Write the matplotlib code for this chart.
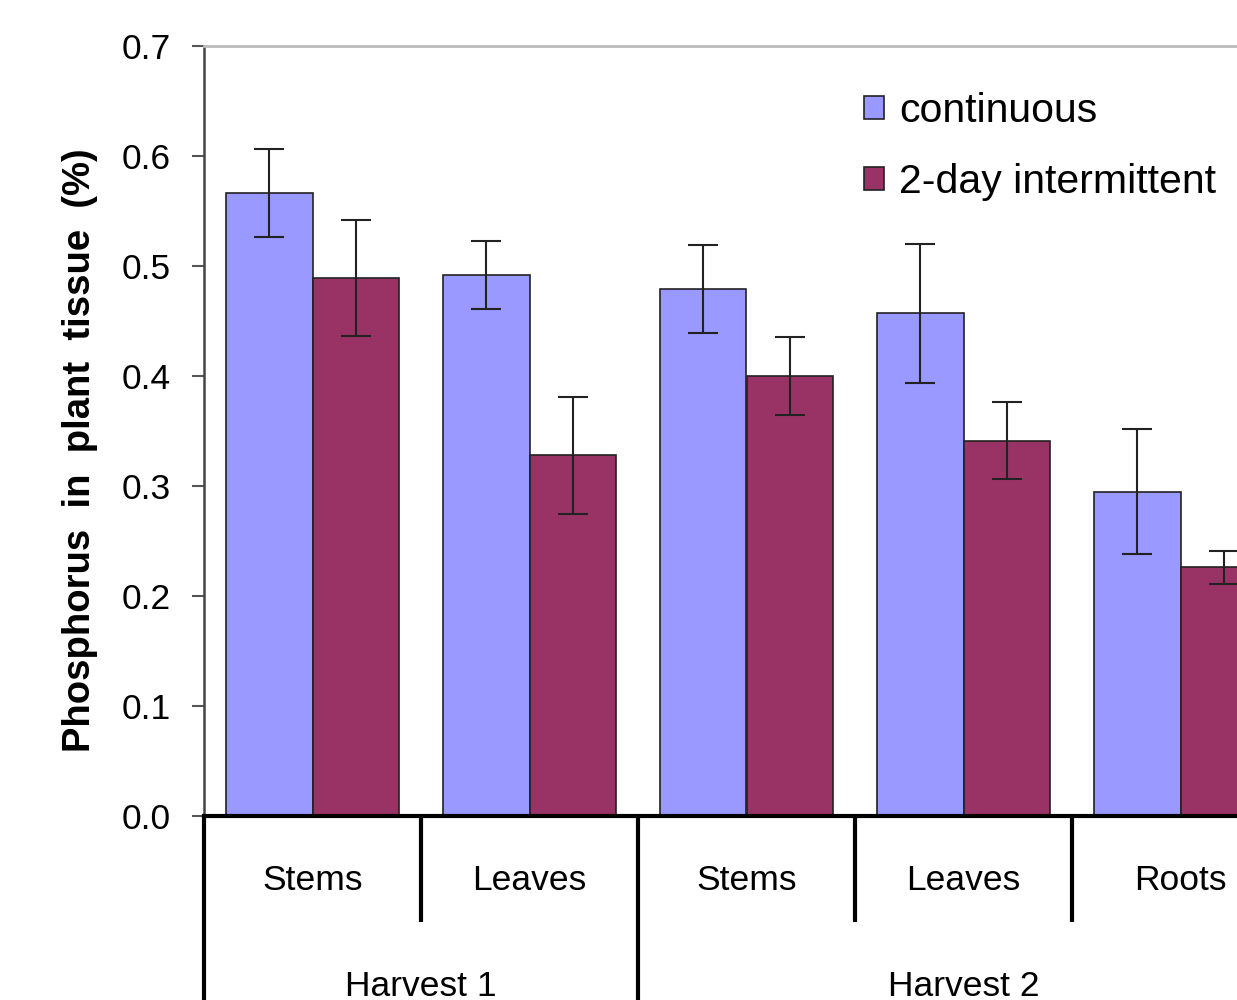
import matplotlib
matplotlib.use("Agg")
import matplotlib.pyplot as plt
from matplotlib.ticker import FormatStrFormatter
import numpy as np

plt.rcParams['font.family'] = ['Liberation Sans', 'DejaVu Sans']

organs = ["Stems", "Leaves", "Stems", "Leaves", "Roots"]
harvests = ["Harvest 1", "Harvest 2"]
harvest_span = [(0, 2), (2, 5)]  # category index ranges
continuous = [0.566, 0.492, 0.479, 0.457, 0.295]
continuous_err = [0.040, 0.031, 0.040, 0.063, 0.057]
intermittent = [0.489, 0.328, 0.400, 0.341, 0.226]
intermittent_err = [0.053, 0.053, 0.035, 0.035, 0.015]
series_names = ["continuous", "2-day intermittent"]
yticks = [0.0, 0.1, 0.2, 0.3, 0.4, 0.5, 0.6, 0.7]

W, H = 1237, 1000
fig = plt.figure(figsize=(W / 100, H / 100), dpi=100)
left_px, right_px, top_px, bottom_px = 204, 1289, 46, 816
ax = fig.add_axes([left_px / W, 1 - bottom_px / H,
                   (right_px - left_px) / W, (bottom_px - top_px) / H])

x = np.arange(len(organs))
bw = 0.397
ekw = dict(ecolor="#222222", elinewidth=1.5, capsize=11, capthick=1.5)
ax.bar(x - bw / 2, continuous, bw, yerr=continuous_err, color="#9999FF",
       edgecolor="#222222", linewidth=1.2, error_kw=ekw, label=series_names[0])
ax.bar(x + bw / 2, intermittent, bw, yerr=intermittent_err, color="#993366",
       edgecolor="#222222", linewidth=1.2, error_kw=ekw, label=series_names[1])

ax.set_xlim(-0.5, len(organs) - 0.5)
ax.set_ylim(0, 0.7)
ax.set_yticks(yticks)
ax.yaxis.set_major_formatter(FormatStrFormatter("%.1f"))
ax.tick_params(axis="y", direction="out", length=9, width=1.5, pad=15,
               labelsize=25.5, colors="#555555", labelcolor="black")
ax.set_xticks([])

ax.spines["right"].set_visible(False)
ax.spines["top"].set_color("#bbbbbb")
ax.spines["top"].set_linewidth(2)
ax.spines["left"].set_color("#444444")
ax.spines["left"].set_linewidth(1.8)
ax.spines["bottom"].set_color("black")
ax.spines["bottom"].set_linewidth(3)

tr = ax.get_xaxis_transform()
px = 1 / (bottom_px - top_px)
short = -106 * px
long_ = -300 * px
bounds = np.arange(len(organs) + 1) - 0.5
harvest_bounds = set()
for a, b in harvest_span:
    harvest_bounds.add(a - 0.5)
    harvest_bounds.add(b - 0.5)
for bx in bounds:
    yend = long_ if bx in harvest_bounds else short
    ax.plot([bx, bx], [0, yend], transform=tr, color="black", lw=3,
            clip_on=False, solid_capstyle="butt")
for i, name in enumerate(organs):
    ax.text(i, -64 * px, name, transform=tr, ha="center", va="center",
            fontsize=25.5, clip_on=False)
for (a, b), name in zip(harvest_span, harvests):
    ax.text((a + b - 1) / 2, -170 * px, name, transform=tr, ha="center",
            va="center", fontsize=25.5, clip_on=False)

fig.text(80 / W, 1 - 450 / H, "Phosphorus  in  plant  tissue  (%)", rotation=90,
         ha="center", va="center", fontsize=27.5, fontweight="bold")

ax.legend(loc="upper left",
          bbox_to_anchor=((864 - left_px) / (right_px - left_px), 1 - 46 * px),
          frameon=False, fontsize=29.5, handlelength=0.5, handleheight=0.5,
          handletextpad=0.35, labelspacing=0.8, borderaxespad=0, borderpad=0)

fig.savefig("out.png", dpi=100)
